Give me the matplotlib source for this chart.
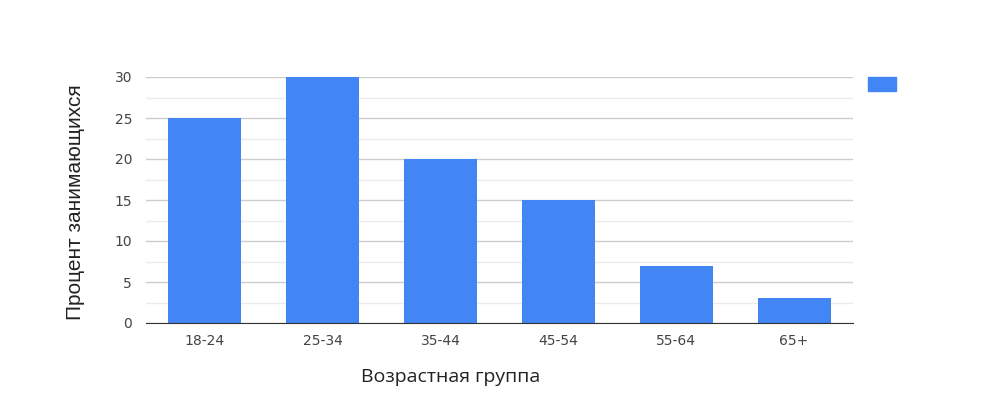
import numpy as np
import matplotlib.pyplot as plt
from matplotlib.patches import Rectangle

plt.rcParams['font.family'] = ['DejaVu Sans']

groups = ["18-24", "25-34", "35-44", "45-54", "55-64", "65+"]
percent = [25, 30, 20, 15, 7, 3]

fig = plt.figure(figsize=(10, 4), dpi=100)
ax = fig.add_axes([0.146, 0.1925, 0.707, 0.615])

x = np.arange(len(groups))
ax.bar(x, percent, width=0.62, color="#4285f4", zorder=3)

ax.set_xlim(-0.5, len(groups) - 0.5)
ax.set_ylim(0, 30)
ax.set_yticks(np.arange(0, 31, 5))
ax.set_yticks(np.arange(2.5, 30, 5), minor=True)
ax.grid(axis="y", which="major", color="#cccccc", linewidth=1, zorder=0)
ax.grid(axis="y", which="minor", color="#ebebeb", linewidth=1, zorder=0)
ax.set_xticks(x)
ax.set_xticklabels(groups)
ax.tick_params(axis="both", which="both", length=0, labelsize=10, labelcolor="#444444")
ax.tick_params(axis="y", pad=10)
ax.tick_params(axis="x", pad=8)
for s in ["top", "right", "left"]:
    ax.spines[s].set_visible(False)
ax.spines["bottom"].set_color("#333333")
ax.spines["bottom"].set_zorder(4)

ax.set_xlabel("Возрастная группа", fontsize=14, color="#222222", family="Open Sans")
ax.set_ylabel("Процент занимающихся", fontsize=15, color="#222222", family="Liberation Sans")
ax.xaxis.set_label_coords(0.431, -0.22)
ax.yaxis.set_label_coords(-0.10, 0.49)
ax.xaxis.label.set_va("center")
ax.yaxis.label.set_va("center")

# legend swatch without text
fig.patches.append(Rectangle((0.868, 0.7725), 0.028, 0.035, transform=fig.transFigure,
                             color="#4285f4"))

fig.savefig("out.png", dpi=100)
